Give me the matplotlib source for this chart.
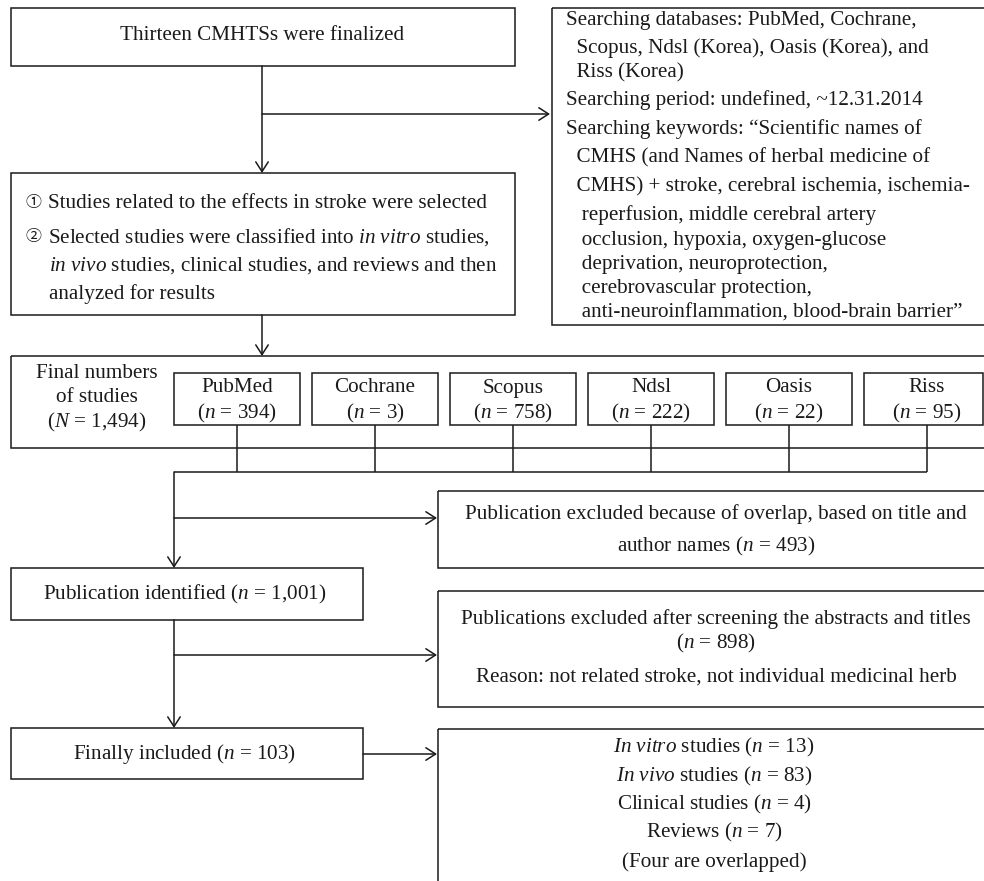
import matplotlib
matplotlib.use('Agg')
import matplotlib.pyplot as plt
from matplotlib.patches import Rectangle

plt.rcParams['font.family'] = ['Liberation Serif', 'DejaVu Serif']
plt.rcParams['mathtext.fontset'] = 'custom'
plt.rcParams['mathtext.rm'] = 'Liberation Serif'
plt.rcParams['mathtext.it'] = 'Liberation Serif:italic'

# ---------------------------------------------------------------------------
# the numbers in the flow chart

db_names = ['PubMed', 'Cochrane', 'Scopus', 'Ndsl', 'Oasis', 'Riss']
db_counts = [394, 3, 758, 222, 22, 95]
total_studies = '1,494'
overlap_excluded = 493
identified = '1,001'
screen_excluded = 898
included = 103
study_types = [r'$\it{In\ vitro}$ studies', r'$\it{In\ vivo}$ studies', 'Clinical studies', 'Reviews']
study_counts = [13, 83, 4, 7]

search_lines = ['Searching databases: PubMed, Cochrane,',
                '  Scopus, Ndsl (Korea), Oasis (Korea), and',
                '  Riss (Korea)',
                'Searching period: undefined, ~12.31.2014',
                'Searching keywords: \u201cScientific names of',
                '  CMHS (and Names of herbal medicine of',
                '  CMHS) + stroke, cerebral ischemia, ischemia-',
                '   reperfusion, middle cerebral artery',
                '   occlusion, hypoxia, oxygen-glucose',
                '   deprivation, neuroprotection,',
                '   cerebrovascular protection,',
                '   anti-neuroinflammation, blood-brain barrier\u201d']
search_y = [21, 48, 73, 100, 129, 158, 187, 215, 240, 265, 289, 313]

# ---------------------------------------------------------------------------

ink = '#1a1a1a'
fs = 15.2

fig = plt.figure(figsize=(9.84, 8.81), dpi=100)
ax = fig.add_axes([0, 0, 1, 1])
ax.set_xlim(0, 984)
ax.set_ylim(881, 0)
ax.axis('off')


def box(x0, y0, x1, y1):
    ax.add_patch(Rectangle((x0, y0), x1 - x0, y1 - y0, fill=False, edgecolor=ink, linewidth=1.1))


def line(xs, ys):
    ax.plot(xs, ys, color=ink, linewidth=1.1, solid_capstyle='butt')


def arrow(x0, y0, x1, y1):
    ax.annotate('', xy=(x1, y1), xytext=(x0, y0),
                arrowprops=dict(arrowstyle='->,head_length=0.7,head_width=0.45', color=ink,
                                linewidth=1.1, shrinkA=0, shrinkB=0, mutation_scale=10))


def txt(x, y, s, ha='center', **kw):
    ax.text(x, y, s, ha=ha, va='center', fontsize=fs, color=ink, **kw)


# top box and the search strategy box
box(10.5, 7.5, 514.5, 66)
txt(262, 36, 'Thirteen CMHTSs were finalized')
arrow(262, 66, 262, 173)
arrow(262, 114, 550, 114)

box(551.5, 7.5, 1000, 325)
for s, y in zip(search_lines, search_y):
    txt(566, y, s, ha='left')

# selection box
box(10.5, 173, 514.5, 315)
for y, mark in zip([203, 237], ['\u2460', '\u2461']):
    ax.text(33, y, mark, ha='center', va='center', fontsize=11.5, color=ink,
            family=['Noto Sans CJK JP', 'DejaVu Sans'])
txt(48, 203, 'Studies related to the effects in stroke were selected', ha='left')
txt(48, 237, r'Selected studies were classified into $\it{in\ vitro}$ studies,', ha='left')
txt(49, 266, r'$\it{in\ vivo}$ studies, clinical studies, and reviews and then', ha='left')
txt(49, 294, 'analyzed for results', ha='left')
arrow(262, 315, 262, 356)

# final numbers per database
box(10.5, 356, 1000, 448)
txt(97, 373, 'Final numbers')
txt(97, 397, 'of studies')
txt(97, 422, r'($\it{N}$ = ' + total_studies + ')')
for i, (name, n) in enumerate(zip(db_names, db_counts)):
    left = 174 + i * 138
    right = min(left + 126, 982.5)
    box(left, 373, right, 425)
    cx = left + 63
    txt(cx, 388, name)
    txt(cx, 413, r'($\it{n}$ = %d)' % n)
    line([cx, cx], [425, 472])
line([174, 174 + 5 * 138 + 63], [472, 472])

# overlap removal
arrow(174, 472, 174, 568)
arrow(174, 518, 437, 518)
box(438, 491, 1000, 568)
txt(716, 514, 'Publication excluded because of overlap, based on title and')
txt(716, 546, r'author names ($\it{n}$ = %d)' % overlap_excluded)

box(10.5, 568, 363, 620)
txt(185, 594, r'Publication identified ($\it{n}$ = ' + identified + ')')

# abstract screening
arrow(174, 620, 174, 728)
arrow(174, 655, 437, 655)
box(438, 591, 1000, 707)
txt(716, 619, 'Publications excluded after screening the abstracts and titles')
txt(716, 643, r'($\it{n}$ = %d)' % screen_excluded)
txt(716, 677, 'Reason: not related stroke, not individual medicinal herb')

box(10.5, 728, 363, 779)
txt(185, 754, r'Finally included ($\it{n}$ = %d)' % included)
arrow(363, 754, 437, 754)

box(438, 729, 1000, 900)
type_y = [747, 776, 804, 832]
for s, n, y in zip(study_types, study_counts, type_y):
    txt(714, y, s + r' ($\it{n}$ = %d)' % n)
txt(714, 862, '(Four are overlapped)')

fig.savefig('out.png', dpi=100)
